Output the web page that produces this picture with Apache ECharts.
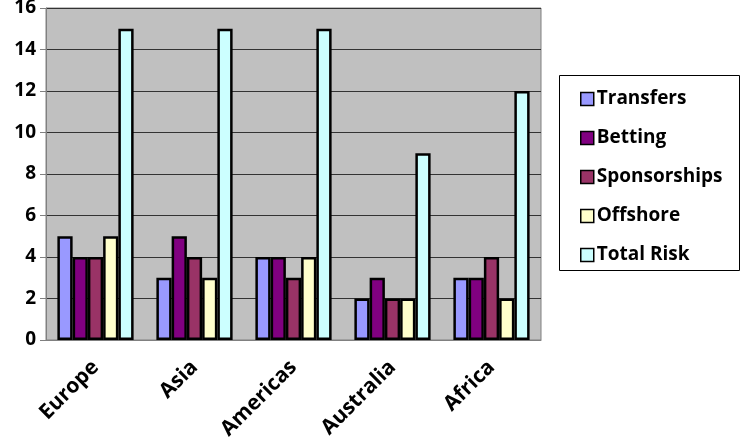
<!DOCTYPE html>
<html>
<head>
<meta charset="utf-8">
<script src="https://cdn.jsdelivr.net/npm/echarts@6/dist/echarts.min.js"></script>
<style>
  html, body { margin: 0; padding: 0; background: #fff; }
  #chart { width: 741px; height: 441px; }
</style>
</head>
<body>
<div id="chart"></div>
<script>
var regions = ["Europe", "Asia", "Americas", "Australia", "Africa"];
var transfers = [5, 3, 4, 2, 3];
var betting = [4, 5, 4, 3, 3];
var sponsorships = [4, 4, 3, 2, 4];
var offshore = [5, 3, 4, 2, 2];
var totalRisk = [15, 15, 15, 9, 12];

var seriesNames = ["Transfers", "Betting", "Sponsorships", "Offshore", "Total Risk"];
var seriesData = [transfers, betting, sponsorships, offshore, totalRisk];
var colors = ["#9999FF", "#800080", "#993366", "#FFFFCC", "#CCFFFF"];

var font = "'Open Sans', 'Liberation Sans', sans-serif";

var chart = echarts.init(document.getElementById("chart"));

var series = seriesNames.map(function(name, i) {
    return {
        name: name,
        type: "bar",
        data: seriesData[i],
        barGap: "0%",
        barCategoryGap: "23%",
        itemStyle: {
            color: colors[i],
            borderColor: "#000",
            borderWidth: 2.5
        }
    };
});

chart.setOption({
    animation: false,
    backgroundColor: "#fff",
    color: colors,
    grid: {
        left: 46,
        top: 8,
        right: 200,
        bottom: 101,
        outerBoundsMode: "none",
        containLabel: false,
        show: true,
        backgroundColor: "#C0C0C0",
        borderColor: "#808080",
        borderWidth: 1
    },
    graphic: [{
        type: "rect",
        shape: { x: 559.5, y: 75.5, width: 180, height: 195 },
        style: { fill: "#fff", stroke: "#000", lineWidth: 1 },
        z: -1
    }],
    legend: {
        orient: "vertical",
        left: 575,
        top: 83,
        itemWidth: 13,
        itemHeight: 13,
        itemGap: 17,
        icon: "rect",
        textStyle: {
            fontFamily: font,
            fontWeight: "bold",
            fontSize: 19,
            lineHeight: 22,
            color: "#000",
            padding: [0, 0, 0, -2]
        },
        itemStyle: { borderColor: "#000", borderWidth: 1.5 },
        data: seriesNames
    },
    xAxis: {
        type: "category",
        data: regions,
        axisLine: { lineStyle: { color: "#808080", width: 1 } },
        axisTick: { length: 6, lineStyle: { color: "#808080" } },
        axisLabel: {
            rotate: 45,
            interval: 0,
            margin: 24,
            fontFamily: font,
            fontWeight: "bold",
            fontSize: 21,
            color: "#000"
        }
    },
    yAxis: {
        type: "value",
        min: 0,
        max: 16,
        interval: 2,
        axisLine: { show: true, lineStyle: { color: "#808080" } },
        axisTick: { show: true, length: 6, lineStyle: { color: "#808080" } },
        splitLine: { lineStyle: { color: "#333", width: 1 } },
        axisLabel: {
            margin: 10,
            fontFamily: font,
            fontWeight: "bold",
            fontSize: 19,
            color: "#000"
        }
    },
    series: series
});
</script>
</body>
</html>
